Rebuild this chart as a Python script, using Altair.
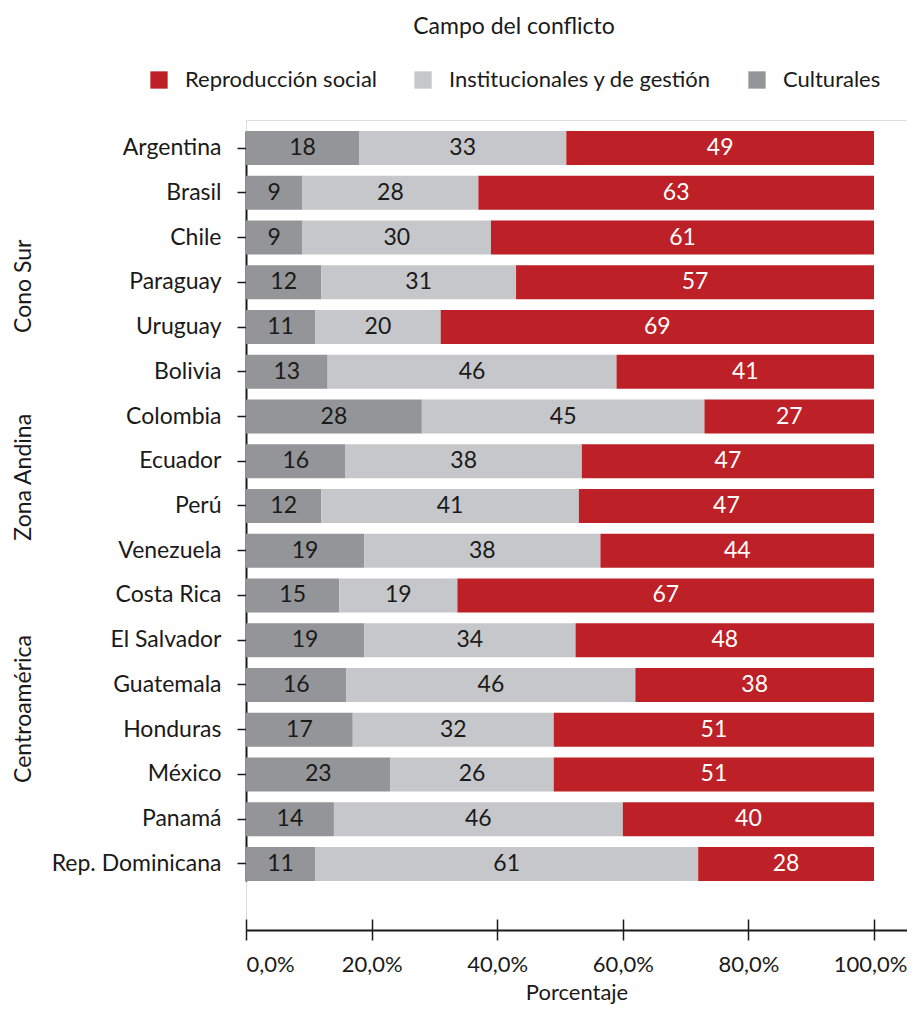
import altair as alt
import pandas as pd

countries = ["Argentina", "Brasil", "Chile", "Paraguay", "Uruguay",
             "Bolivia", "Colombia", "Ecuador", "Perú", "Venezuela",
             "Costa Rica", "El Salvador", "Guatemala", "Honduras", "México",
             "Panamá", "Rep. Dominicana"]
culturales = [18, 9, 9, 12, 11, 13, 28, 16, 12, 19, 15, 19, 16, 17, 23, 14, 11]
institucionales = [33, 28, 30, 31, 20, 46, 45, 38, 41, 38, 19, 34, 46, 32, 26, 46, 61]
reproduccion = [49, 63, 61, 57, 69, 41, 27, 47, 47, 44, 67, 48, 38, 51, 51, 40, 28]

categories = ["Culturales", "Institucionales y de gestión", "Reproducción social"]
legend_order = ["Reproducción social", "Institucionales y de gestión", "Culturales"]
colors = {"Reproducción social": "#BD2026",
          "Institucionales y de gestión": "#C6C7CA",
          "Culturales": "#939598"}
text_colors = {"Reproducción social": "#FFFFFF",
               "Institucionales y de gestión": "#1A1A1A",
               "Culturales": "#1A1A1A"}

groups = ["Cono Sur", "Zona Andina", "Centroamérica"]
group_anchor = ["Paraguay", "Ecuador", "Guatemala"]
group_shift = [4, 16, 24]

x_ticks = [0, 0.2, 0.4, 0.6, 0.8, 1.0]

rows = []
for i, c in enumerate(countries):
    for j, (cat, vals) in enumerate(zip(categories, [culturales, institucionales, reproduccion])):
        rows.append({"pais": c, "campo": cat, "orden": j, "valor": vals[i],
                     "tcolor": text_colors[cat]})
df = pd.DataFrame(rows)

FONT = "Lato"
FS = 23
W, H = 661, 810
INK = "#1A1A1A"

y_scale = alt.Scale(domain=countries, range=[11, 761], paddingInner=0.24, paddingOuter=0)
x_scale = alt.Scale(domain=[0, 1.0525], nice=False)

base = alt.Chart(df).transform_stack(
    stack="valor", groupby=["pais"], as_=["x0", "x1"], offset="normalize",
    sort=[alt.SortField("orden", order="ascending")]
).transform_calculate(mid="(datum.x0 + datum.x1) / 2")

bars = base.mark_bar().encode(
    y=alt.Y("pais:N", scale=y_scale, sort=countries,
            axis=alt.Axis(title=None, orient="left", labelFont=FONT, labelFontSize=FS, labelColor=INK,
                          labelPadding=16, tickSize=9, tickColor=INK, domainColor=INK,
                          domainWidth=2, tickWidth=1.5)),
    x=alt.X("x0:Q", scale=x_scale,
            axis=alt.Axis(title="Porcentaje", orient="bottom", titleFont=FONT, titleFontSize=22,
                          titleFontWeight="normal", titleColor=INK, titlePadding=7,
                          values=x_ticks, labelExpr="replace(format(datum.value, '.1%'), '.', ',')",
                          labelOffset={"condition": {"test": "datum.value >= 1", "value": -4}, "value": 0},
                          labelFont=FONT, labelFontSize=22, labelColor=INK, labelPadding=14,
                          tickSize=10, tickColor=INK, tickWidth=1.5,
                          domainColor=INK, domainWidth=2, grid=False)),
    x2="x1:Q",
    color=alt.Color("campo:N", scale=alt.Scale(domain=legend_order,
                                               range=[colors[k] for k in legend_order]),
                    legend=alt.Legend(title="Campo del conflicto", orient="none", direction="horizontal",
                                      legendX=-98, legendY=-104, titleAnchor="middle",
                                      titleFont=FONT, titleFontSize=FS, titleFontWeight="normal",
                                      titleColor=INK, titlePadding=30, titleLimit=0, labelLimit=0,
                                      labelFont=FONT, labelFontSize=22, labelColor=INK,
                                      symbolType="square", symbolSize=300, symbolStrokeWidth=0,
                                      labelOffset=15, columnPadding=34)),
)

labels = base.mark_text(font=FONT, fontSize=FS, baseline="middle", align="center").encode(
    y=alt.Y("pais:N", scale=y_scale, sort=countries,
            axis=alt.Axis(title=None, orient="left", labels=False, domain=False, offset=-10,
                          tickSize=10, tickColor=INK, tickWidth=1.5)),
    x=alt.X("mid:Q", scale=x_scale,
            axis=alt.Axis(title=None, orient="bottom", labels=False, domain=False, offset=-11,
                          tickSize=11, values=x_ticks, tickColor=INK, tickWidth=1.5, grid=False)),
    text=alt.Text("valor:Q"),
    color=alt.Color("tcolor:N", scale=None, legend=None),
)

gdf = pd.DataFrame({"grupo": groups, "pais": group_anchor, "shift": group_shift})
glayers = []
for g, a, s in zip(groups, group_anchor, group_shift):
    glayers.append(
        alt.Chart(gdf[gdf.grupo == g]).mark_text(
            font=FONT, fontSize=FS, angle=270, align="center", baseline="middle",
            color=INK, dx=-s
        ).encode(
            y=alt.Y("pais:N", scale=y_scale, sort=countries, axis=None),
            x=alt.value(-222),
            text="grupo:N",
        )
    )

chart = alt.layer(bars, labels, *glayers).resolve_axis(x="independent", y="independent").properties(
    width=W, height=H,
    autosize=alt.AutoSizeParams(type="none"),
    padding={"left": 238, "top": 112, "right": 0, "bottom": 75},
).configure_view(stroke=None).configure(background="white")

chart.save("out.html", embed_options={"renderer": "svg", "actions": False})
